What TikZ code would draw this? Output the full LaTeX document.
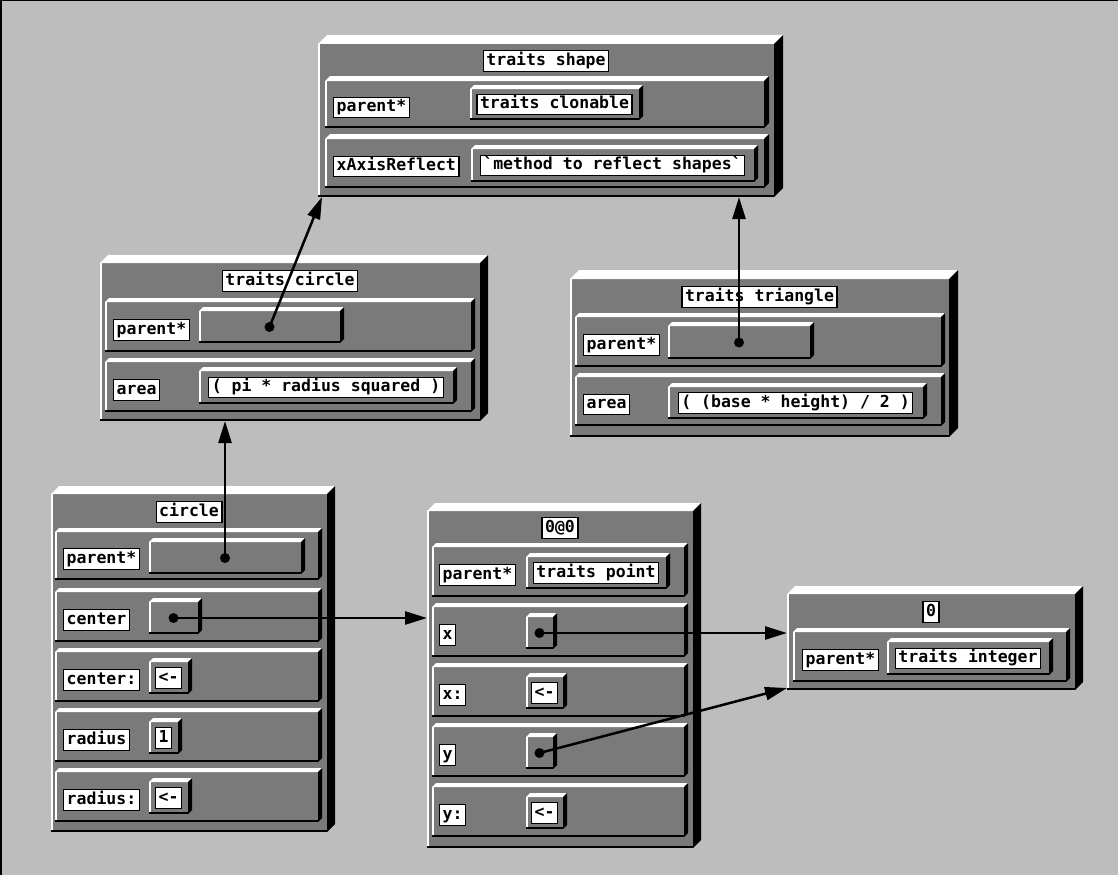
\documentclass[tikz,border=0pt]{standalone}
\usepackage{fontspec}
\setmonofont{DejaVu Sans Mono}
\usetikzlibrary{arrows.meta, positioning, calc}

\definecolor{bggray}{gray}{0.74}
\definecolor{facegray}{gray}{0.48}

% raised 3D slab: name, x1, y1, x2, y2, depth (front face corners)
\newcommand{\objslab}[6]{%
  \node[face, minimum width={(#4-#2)*1pt}, minimum height={(#5-#3)*1pt}] (#1) at (#2,#3) {};
  \fill[white] (#1.north west) -- ++(#6,-#6) -- ([shift={(#6,-#6)}]#1.north east) -- (#1.north east) -- cycle;
  \fill[black] (#1.north east) -- ++(#6,-#6) -- ([shift={(#6,-#6)}]#1.south east) -- (#1.south east) -- cycle;
  \draw[white, line width=1.5pt] ([xshift=0.75pt]#1.north west) -- ([xshift=0.75pt]#1.south west);
  \draw[line width=2.5pt] ([yshift=1.25pt]#1.south west) -- ([yshift=1.25pt]#1.south east);
}

\begin{document}
\begin{tikzpicture}[
  x=1pt, y=-1pt,
  face/.style={fill=facegray, draw=none, inner sep=0pt, outer sep=0pt, anchor=north west},
  lbl/.style={fill=white, draw=black, line width=1.4pt, inner xsep=3pt, inner ysep=2.5pt,
              text height=12pt, text depth=3.5pt, font=\ttfamily\bfseries\fontsize{16.5}{18}\selectfont},
  slotname/.style={lbl, yshift=-3pt},
  dot/.style={circle, fill=black, inner sep=0pt, minimum size=10pt},
  arrow/.style={-{Triangle[length=22pt, width=13pt]}, line width=2.5pt}
]
\useasboundingbox (0,0) rectangle (1118,875);
\fill[bggray] (0,0) rectangle (1118,875);
\draw[line width=3pt] (0,0) -- (0,875);
\draw[line width=1.5pt] (0,0) -- (1118,0);

% traits shape
\objslab{tshape}{318}{44}{774}{197}{9}
\node[lbl, below=6pt of tshape.north] (tshape-title) {traits shape};
\objslab{tshape-r1}{325}{81}{764}{128}{5}
\objslab{tshape-r2}{325}{139}{764}{188}{5}
\node[slotname, right=8pt of tshape-r1.west] (tshape-n1) {parent*};
\node[slotname, right=8pt of tshape-r2.west] (tshape-n2) {xAxisReflect};
\objslab{tshape-v1}{470}{89}{639}{120}{4}
\objslab{tshape-v2}{471}{149}{754}{182}{4}
\node[lbl] (tshape-t1) at (tshape-v1.center) {traits clonable};
\node[lbl] (tshape-t2) at (tshape-v2.center) {\textasciigrave method to reflect shapes\textasciigrave};

% traits circle
\objslab{tcircle}{100}{263}{480}{421}{8}
\node[lbl, below=7pt of tcircle.north] (tcircle-title) {traits circle};
\objslab{tcircle-r1}{105}{302}{471}{352}{4}
\objslab{tcircle-r2}{105}{362}{471}{412}{4}
\node[slotname, right=8pt of tcircle-r1.west] (tcircle-n1) {parent*};
\node[slotname, right=8pt of tcircle-r2.west] (tcircle-n2) {area};
\objslab{tcircle-v1}{199}{311}{340}{343}{4}
\objslab{tcircle-v2}{199}{371}{453}{404}{4}
\node[lbl] (tcircle-t2) at (tcircle-v2.center) {( pi * radius squared )};

% traits triangle
\objslab{ttri}{570}{279}{949}{437}{9}
\node[lbl, below=7pt of ttri.north] (ttri-title) {traits triangle};
\objslab{ttri-r1}{575}{317}{941}{367}{4}
\objslab{ttri-r2}{575}{377}{941}{426}{4}
\node[slotname, right=8pt of ttri-r1.west] (ttri-n1) {parent*};
\node[slotname, right=8pt of ttri-r2.west] (ttri-n2) {area};
\objslab{ttri-v1}{668}{326}{810}{359}{4}
\objslab{ttri-v2}{668}{387}{923}{419}{4}
\node[lbl] (ttri-t2) at (ttri-v2.center) {( (base * height) / 2 )};

% circle
\objslab{circ}{51}{494}{327}{832}{8}
\node[lbl, below=7pt of circ.north] (circ-title) {circle};
\objslab{circ-r1}{55}{532}{318}{580}{4}
\objslab{circ-r2}{55}{592}{318}{642}{4}
\objslab{circ-r3}{55}{652}{318}{702}{4}
\objslab{circ-r4}{55}{712}{318}{762}{4}
\objslab{circ-r5}{55}{772}{318}{822}{4}
\node[slotname, right=8pt of circ-r1.west] (circ-n1) {parent*};
\node[slotname, right=8pt of circ-r2.west] (circ-n2) {center};
\node[slotname, right=8pt of circ-r3.west] (circ-n3) {center:};
\node[slotname, right=8pt of circ-r4.west] (circ-n4) {radius};
\node[slotname, right=8pt of circ-r5.west] (circ-n5) {radius:};
\objslab{circ-v1}{149}{542}{301}{574}{4}
\objslab{circ-v2}{149}{602}{198}{634}{4}
\objslab{circ-v3}{149}{662}{188}{694}{4}
\objslab{circ-v4}{149}{722}{178}{754}{4}
\objslab{circ-v5}{149}{782}{188}{814}{4}
\node[lbl] (circ-t3) at (circ-v3.center) {<-};
\node[lbl] (circ-t4) at (circ-v4.center) {1};
\node[lbl] (circ-t5) at (circ-v5.center) {<-};

% 0@0
\objslab{pt}{427}{511}{693}{848}{8}
\node[lbl, below=6pt of pt.north] (pt-title) {0@0};
\objslab{pt-r1}{432}{547}{684}{597}{4}
\objslab{pt-r2}{432}{607}{684}{657}{4}
\objslab{pt-r3}{432}{667}{684}{717}{4}
\objslab{pt-r4}{432}{727}{684}{777}{4}
\objslab{pt-r5}{432}{787}{684}{837}{4}
\node[slotname, right=7pt of pt-r1.west] (pt-n1) {parent*};
\node[slotname, right=7pt of pt-r2.west] (pt-n2) {x};
\node[slotname, right=7pt of pt-r3.west] (pt-n3) {x:};
\node[slotname, right=7pt of pt-r4.west] (pt-n4) {y};
\node[slotname, right=7pt of pt-r5.west] (pt-n5) {y:};
\objslab{pt-v1}{526}{557}{666}{589}{4}
\objslab{pt-v2}{526}{617}{553}{649}{4}
\objslab{pt-v3}{526}{677}{563}{709}{4}
\objslab{pt-v4}{526}{737}{553}{769}{4}
\objslab{pt-v5}{526}{797}{563}{829}{4}
\node[lbl] (pt-t1) at (pt-v1.center) {traits point};
\node[lbl] (pt-t3) at (pt-v3.center) {<-};
\node[lbl] (pt-t5) at (pt-v5.center) {<-};

% 0
\objslab{zero}{787}{594}{1075}{690}{8}
\node[lbl, below=7pt of zero.north] (zero-title) {0};
\objslab{zero-r1}{793}{632}{1066}{682}{4}
\node[slotname, right=9pt of zero-r1.west] (zero-n1) {parent*};
\objslab{zero-v1}{887}{642}{1049}{675}{4}
\node[lbl] (zero-t1) at (zero-v1.center) {traits integer};

% references
\node[dot] (circ-d1) at (circ-v1.center) {};
\node[dot] (circ-d2) at (circ-v2.center) {};
\node[dot] (tcircle-d1) at (tcircle-v1.center) {};
\node[dot] (ttri-d1) at (ttri-v1.center) {};
\node[dot] (pt-d2) at (pt-v2.center) {};
\node[dot] (pt-d4) at (pt-v4.center) {};

\draw[arrow] (circ-d1.center) -- (circ-d1.center |- tcircle.south);
\draw[arrow] (tcircle-d1.center) -- ([xshift=4pt]tshape.south west);
\draw[arrow] (ttri-d1.center) -- (ttri-d1.center |- tshape.south);
\draw[arrow] (circ-d2.center) -- (circ-d2.center -| pt.west);
\draw[arrow] (pt-d2.center) -- (pt-d2.center -| zero.west);
\draw[arrow] (pt-d4.center) -- ([yshift=2pt]zero.south west);
\end{tikzpicture}
\end{document}
